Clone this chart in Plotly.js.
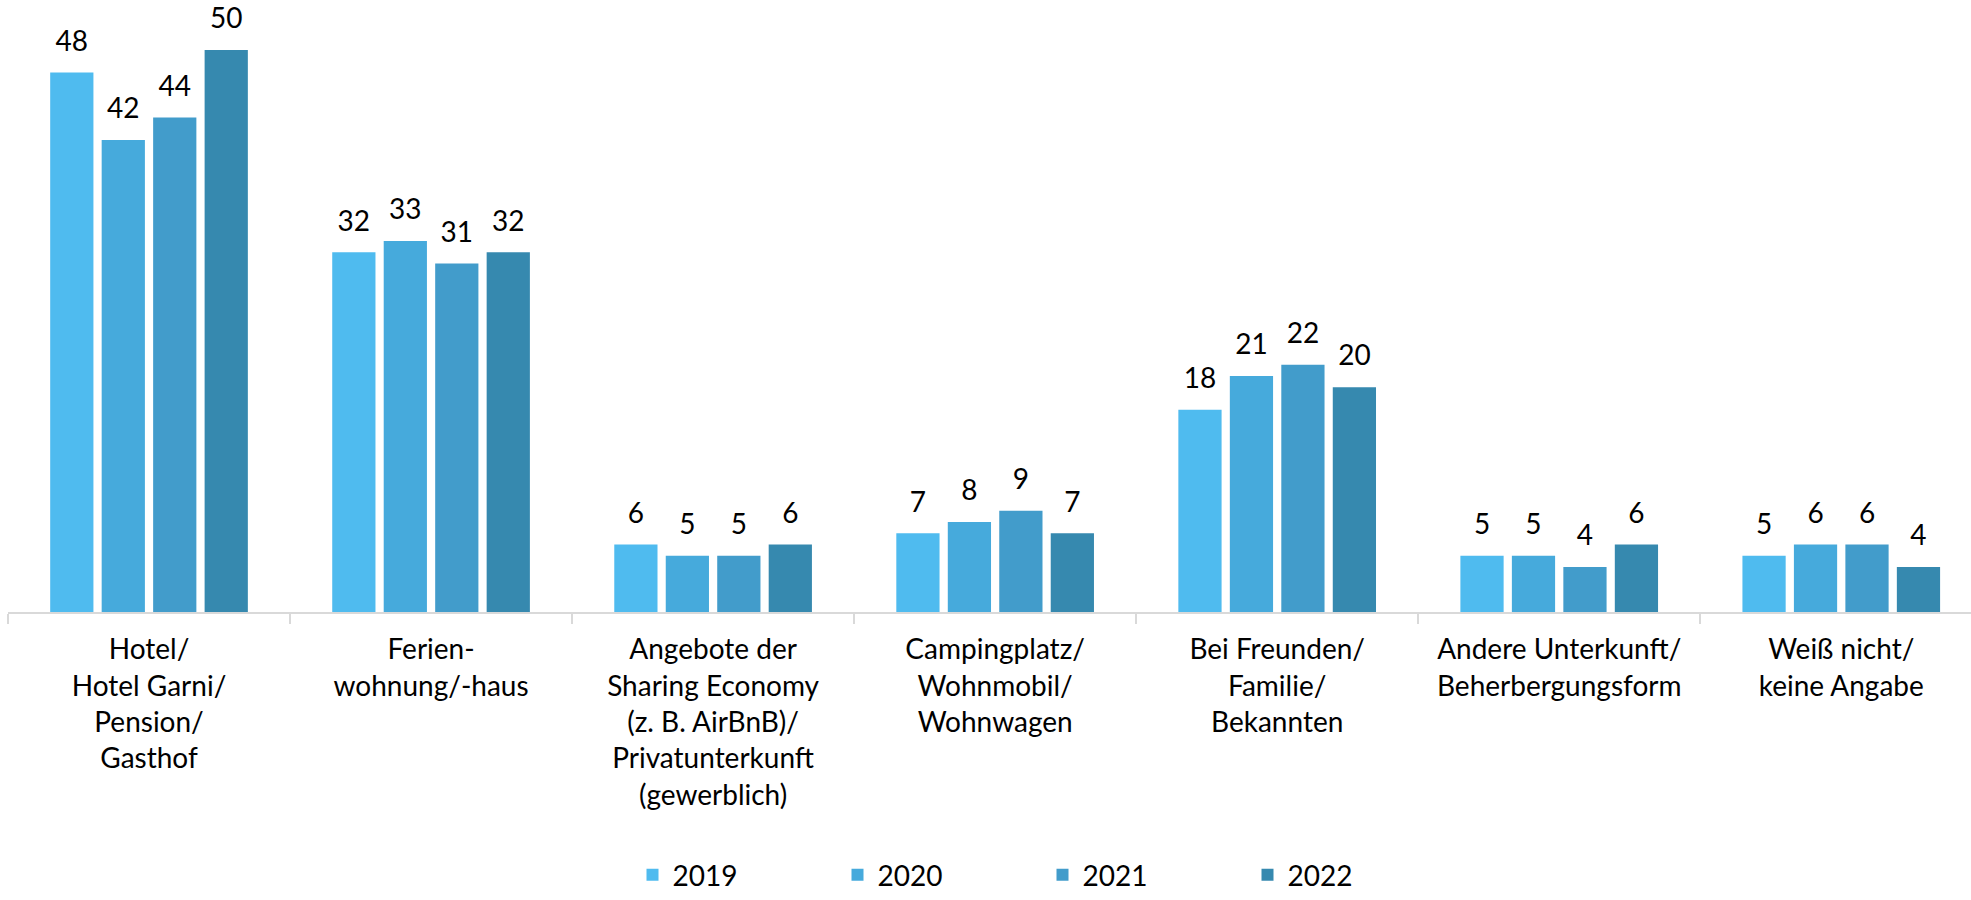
<!DOCTYPE html>
<html>
<head>
<meta charset="utf-8">
<script src="https://cdn.plot.ly/plotly-3.0.1.min.js"></script>
<style>
html,body{margin:0;padding:0;background:#fff;}
#chart{width:1971px;height:900px;}
</style>
</head>
<body>
<div id="chart"></div>
<script>
const categories = [
  "Hotel/<br>Hotel Garni/<br>Pension/<br>Gasthof",
  "Ferien-<br>wohnung/-haus",
  "Angebote der<br>Sharing Economy<br>(z. B. AirBnB)/<br>Privatunterkunft<br>(gewerblich)",
  "Campingplatz/<br>Wohnmobil/<br>Wohnwagen",
  "Bei Freunden/<br>Familie/<br>Bekannten",
  "Andere Unterkunft/<br>Beherbergungsform",
  "Weiß nicht/<br>keine Angabe"
];
const seriesNames = ["2019", "2020", "2021", "2022"];
const values2019 = [48, 32, 6, 7, 18, 5, 5];
const values2020 = [42, 33, 5, 8, 21, 5, 6];
const values2021 = [44, 31, 5, 9, 22, 4, 6];
const values2022 = [50, 32, 6, 7, 20, 6, 4];
const seriesValues = [values2019, values2020, values2021, values2022];
const colors = ["#4FBBEF", "#46AADC", "#429CCB", "#3689AF"];

const FONT = "Lato, 'Open Sans', sans-serif";
const GAP = 0.27;

const bars = seriesNames.map((name, i) => ({
  type: "bar",
  name: name,
  x: categories,
  y: seriesValues[i],
  marker: {color: colors[i]},
  offsetgroup: "g" + i,
  hoverinfo: "x+y+name"
}));

const labels = seriesNames.map((name, i) => ({
  type: "scatter",
  mode: "markers+text",
  name: name,
  showlegend: false,
  x: categories,
  y: seriesValues[i],
  offsetgroup: "g" + i,
  marker: {size: 22, opacity: 0, color: colors[i]},
  text: seriesValues[i].map(String),
  textposition: "top center",
  cliponaxis: false,
  textfont: {family: FONT, size: 28, color: "#000"},
  hoverinfo: "skip"
}));

const layout = {
  width: 1971,
  height: 900,
  margin: {l: 8, r: 0, t: 0, b: 284},
  paper_bgcolor: "#fff",
  plot_bgcolor: "#fff",
  barmode: "group",
  bargap: GAP,
  bargroupgap: 0.16,
  scattermode: "group",
  scattergap: GAP,
  font: {family: FONT, color: "#000"},
  xaxis: {
    range: [-0.5, 6.46],
    showline: true,
    linecolor: "#D9D9D9",
    linewidth: 1.5,
    ticks: "outside",
    tickson: "boundaries",
    ticklen: 10,
    tickcolor: "#D9D9D9",
    tickwidth: 1.5,
    ticklabelstandoff: 12,
    tickfont: {family: FONT, size: 28, color: "#000"},
    tickangle: 0,
    showgrid: false,
    zeroline: false
  },
  yaxis: {
    range: [0, 54.45],
    visible: false,
    showgrid: false,
    zeroline: false
  },
  showlegend: true,
  legend: {
    orientation: "h",
    x: 0.527,
    xanchor: "center",
    y: -0.43,
    yanchor: "middle",
    entrywidth: 160,
    entrywidthmode: "pixels",
    font: {family: FONT, size: 28, color: "#000"},
    itemclick: false,
    itemdoubleclick: false
  }
};

Plotly.newPlot("chart", bars.concat(labels), layout, {displayModeBar: false, staticPlot: true});
</script>
</body>
</html>
